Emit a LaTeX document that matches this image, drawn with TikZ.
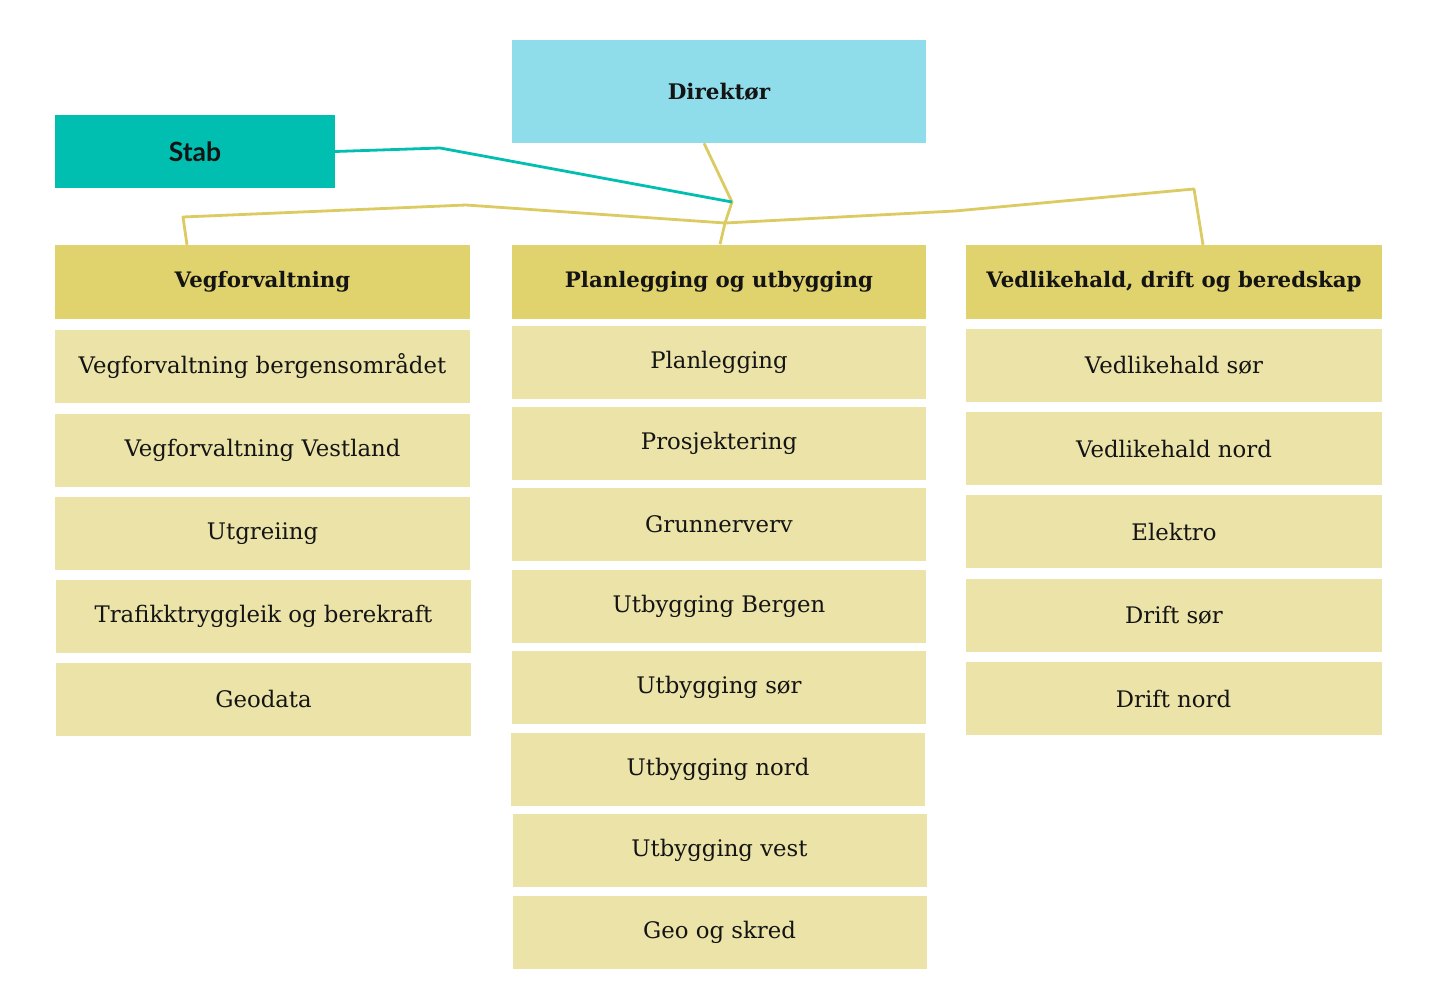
\documentclass[tikz,border=0pt]{standalone}
\usepackage{fontspec}
\setmainfont{DejaVu Serif}
\newfontfamily\stabfont{Lato}
\definecolor{dirblue}{HTML}{8FDDEB}
\definecolor{stabteal}{HTML}{00BFB0}
\definecolor{headyel}{HTML}{E0D36D}
\definecolor{subyel}{HTML}{EBE3A7}
\definecolor{lineyel}{HTML}{DCCB62}
\definecolor{txt}{HTML}{141414}
\begin{document}
\begin{tikzpicture}[x=1pt,y=-1pt,
  box/.style={rectangle, inner sep=0pt, text=txt, draw=none},
  dirbox/.style={box, fill=dirblue, minimum width=414pt, minimum height=103pt, font=\fontsize{21.5}{25}\selectfont\bfseries},
  stabbox/.style={box, fill=stabteal, minimum width=280pt, minimum height=73pt, font=\stabfont\fontsize{26.5}{30}\selectfont\bfseries},
  headbox/.style={box, fill=headyel, minimum height=74pt, font=\fontsize{21.3}{25}\selectfont\bfseries},
  subbox/.style={box, fill=subyel, minimum height=73pt, font=\fontsize{22.8}{26}\selectfont},
  lcol/.style={minimum width=415pt},
  mcol/.style={minimum width=414pt},
  rcol/.style={minimum width=416pt},
  yline/.style={draw=lineyel, line width=2.8pt, line join=round},
  tline/.style={draw=stabteal, line width=2.8pt, line join=round}]
\useasboundingbox (0,0) rectangle (1440,1006);
\fill[white] (0,0) rectangle (1440,1006);

% top
\node[dirbox] (dir) at (719,91.5) {Direktør};
\node[stabbox] (stab) at (195,151.5) {Stab};

% headers
\node[headbox, lcol] (hv) at (262.5,282) {Vegforvaltning};
\node[headbox, mcol] (hp) at (719,281.5) {Planlegging og utbygging};
\node[headbox, rcol] (hd) at (1174,282) {Vedlikehald, drift og beredskap};

% left column
\node[subbox, lcol] (l1) at (262.5,366.5) {Vegforvaltning bergensområdet};
\node[subbox, lcol] (l2) at (262.5,450) {Vegforvaltning Vestland};
\node[subbox, lcol] (l3) at (262.5,533.5) {Utgreiing};
\node[subbox, lcol] (l4) at (263.5,616.5) {Trafikktryggleik og berekraft};
\node[subbox, lcol] (l5) at (263.5,699) {Geodata};

% middle column
\node[subbox, mcol] (m1) at (719,362) {Planlegging};
\node[subbox, mcol] (m2) at (719,443) {Prosjektering};
\node[subbox, mcol] (m3) at (719,524.5) {Grunnerverv};
\node[subbox, mcol] (m4) at (719,606) {Utbygging Bergen};
\node[subbox, mcol] (m5) at (719,687.5) {Utbygging sør};
\node[subbox, mcol] (m6) at (718,769) {Utbygging nord};
\node[subbox, mcol] (m7) at (719.5,850) {Utbygging vest};
\node[subbox, mcol] (m8) at (719.5,932.5) {Geo og skred};

% right column
\node[subbox, rcol] (r1) at (1174,365.5) {Vedlikehald sør};
\node[subbox, rcol] (r2) at (1174,448.5) {Vedlikehald nord};
\node[subbox, rcol] (r3) at (1174,531.5) {Elektro};
\node[subbox, rcol] (r4) at (1174,615.5) {Drift sør};
\node[subbox, rcol] (r5) at (1173.5,698.5) {Drift nord};

% connectors
\coordinate (jtop) at (732,202);
\coordinate (jmid) at (725,223);
\coordinate (lb) at (466,205);
\coordinate (lc) at (183,217);
\coordinate (rb) at (955,211);
\coordinate (rc) at (1194,189);

\draw[yline] (dir.south -| 704,0) -- (jtop) -- (jmid) -- (hp.north -| 720,0);
\draw[yline] (jmid) -- (lb) -- (lc) -- (hv.north -| 187,0);
\draw[yline] (jmid) -- (rb) -- (rc) -- (hd.north -| 1203,0);
\draw[tline] (stab.east) -- (440,148) -- (jtop);
\end{tikzpicture}
\end{document}
